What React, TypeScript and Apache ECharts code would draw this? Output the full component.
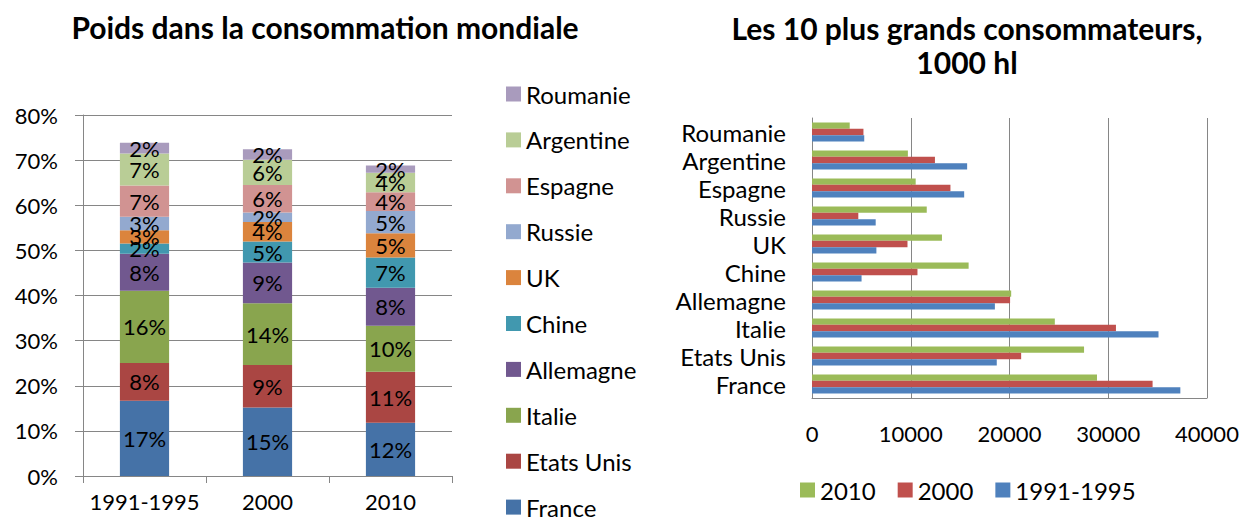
import React, { useEffect, useRef } from "react";
import * as echarts from "echarts";

// Left chart: share of world consumption (%)
const periods = ["1991-1995", "2000", "2010"];
const countries = ["France", "Etats Unis", "Italie", "Allemagne", "Chine", "UK", "Russie", "Espagne", "Argentine", "Roumanie"];
const shareFrance = [16.7, 15.2, 11.8];
const shareEtatsUnis = [8.35, 9.4, 11.3];
const shareItalie = [16.0, 13.7, 10.2];
const shareAllemagne = [8.2, 9.0, 8.4];
const shareChine = [2.3, 4.65, 6.7];
const shareUK = [2.9, 4.35, 5.4];
const shareRussie = [3.0, 2.1, 4.9];
const shareEspagne = [6.9, 6.1, 4.2];
const shareArgentine = [7.1, 5.6, 4.3];
const shareRoumanie = [2.4, 2.3, 1.6];
const shares = [shareFrance, shareEtatsUnis, shareItalie, shareAllemagne, shareChine, shareUK, shareRussie, shareEspagne, shareArgentine, shareRoumanie];
const leftColors = ["#4572A7", "#AA4643", "#89A54E", "#71588F", "#4198AF", "#DB843D", "#93A9CF", "#D19392", "#B9CD96", "#A99BBD"];

// Right chart: top 10 consumers, 1000 hl (bottom to top)
const consumers = ["France", "Etats Unis", "Italie", "Allemagne", "Chine", "UK", "Russie", "Espagne", "Argentine", "Roumanie"];
const vol2010 = [28860, 27550, 24590, 20170, 15860, 13160, 11620, 10500, 9710, 3820];
const vol2000 = [34490, 21180, 30780, 20060, 10680, 9670, 4690, 14020, 12450, 5210];
const vol1991 = [37300, 18710, 35090, 18520, 5020, 6520, 6450, 15410, 15710, 5290];
const volNames = ["2010", "2000", "1991-1995"];
const volColors = ["#9BBB59", "#C0504D", "#4F81BD"];
const xTicks = [0, 40000, 10000];

const FONT = "Lato";
const GRAY = "#868686";

export default function App() {
  const ref = useRef<HTMLDivElement>(null);
  useEffect(() => {
    if (!ref.current) return;
    const chart = echarts.init(ref.current, undefined, { renderer: "svg" });
    const leftSeries = countries.map((name, i) => ({
      type: "bar",
      name,
      stack: "share",
      xAxisIndex: 0,
      yAxisIndex: 0,
      barWidth: "40%",
      data: shares[i],
      itemStyle: { color: leftColors[i] },
      label: {
        show: true,
        position: "inside",
        formatter: (p: any) => Math.round(p.value) + "%",
        fontSize: 22,
        fontFamily: FONT,
        color: "#000",
      },
    }));
    const volData = [vol2010, vol2000, vol1991];
    const rightSeries = volNames.map((name, i) => ({
      type: "bar",
      name,
      xAxisIndex: 1,
      yAxisIndex: 1,
      data: volData[i],
      barGap: "0%",
      barCategoryGap: "33%",
      itemStyle: { color: volColors[i] },
    }));
    const numLabel = { fontSize: 22, fontFamily: FONT, color: "#000" };
    const txtLabel = { fontSize: 24, fontFamily: FONT, color: "#000" };
    const legendOrder = countries.slice().reverse();
    const STEP = 45.9;
    const vLegend = (data: string[], top: number) => ({
      orient: "vertical",
      left: 506,
      top,
      padding: 0,
      itemWidth: 15,
      itemHeight: 15,
      itemGap: STEP - 24,
      icon: "rect",
      data,
      textStyle: { ...txtLabel, lineHeight: 24 },
    });
    chart.setOption({
      animation: false,
      textStyle: { fontFamily: FONT },
      graphic: [
        {
          type: "text",
          x: 325,
          y: 27,
          style: {
            text: "Poids dans la consommation mondiale",
            fontSize: 30,
            fontWeight: "bold",
            fontFamily: FONT,
            fill: "#000",
            align: "center",
            verticalAlign: "middle",
          },
        },
        {
          type: "text",
          x: 967,
          y: 45,
          style: {
            text: "Les 10 plus grands consommateurs,\n1000 hl",
            fontSize: 30,
            lineHeight: 34,
            fontWeight: "bold",
            fontFamily: FONT,
            fill: "#000",
            align: "center",
            verticalAlign: "middle",
          },
        },
      ],
      legend: [
        vLegend(legendOrder.slice(0, 5), 82),
        vLegend(legendOrder.slice(5, 9), 82 + 5 * STEP),
        vLegend(legendOrder.slice(9), 82 + 9 * STEP),
        {
          orient: "horizontal",
          left: 800,
          top: 477,
          padding: 0,
          itemWidth: 15,
          itemHeight: 15,
          itemGap: 22,
          icon: "rect",
          data: volNames,
          textStyle: { ...txtLabel, lineHeight: 26 },
        },
      ],
      grid: [
        { left: 83, top: 115, width: 369, height: 361 },
        { left: 812, top: 118, width: 395, height: 280 },
      ],
      xAxis: [
        {
          type: "category",
          gridIndex: 0,
          data: periods,
          axisLine: { show: true, lineStyle: { color: GRAY } },
          axisTick: { show: true, length: 7, lineStyle: { color: GRAY } },
          axisLabel: { ...numLabel, margin: 14, interval: 0 },
        },
        {
          type: "value",
          gridIndex: 1,
          min: xTicks[0],
          max: xTicks[1],
          interval: xTicks[2],
          axisLine: { show: true, lineStyle: { color: GRAY } },
          axisTick: { show: false },
          splitLine: { show: true, lineStyle: { color: GRAY } },
          axisLabel: { ...numLabel, margin: 24, formatter: (v: number) => String(v) },
        },
      ],
      yAxis: [
        {
          type: "value",
          gridIndex: 0,
          min: 0,
          max: 80,
          interval: 10,
          axisLine: { show: true, lineStyle: { color: GRAY } },
          axisTick: { show: true, length: 8, lineStyle: { color: GRAY } },
          splitLine: { show: true, lineStyle: { color: GRAY } },
          axisLabel: { ...numLabel, margin: 25, formatter: "{value}%" },
        },
        {
          type: "category",
          gridIndex: 1,
          data: consumers,
          axisLine: { show: true, lineStyle: { color: GRAY } },
          axisTick: { show: false },
          axisLabel: { ...txtLabel, margin: 26, interval: 0 },
        },
      ],
      series: [...leftSeries, ...rightSeries],
    });
    return () => chart.dispose();
  }, []);
  return <div ref={ref} style={{ position: "absolute", left: 0, top: 0, width: 1243, height: 519 }} />;
}
